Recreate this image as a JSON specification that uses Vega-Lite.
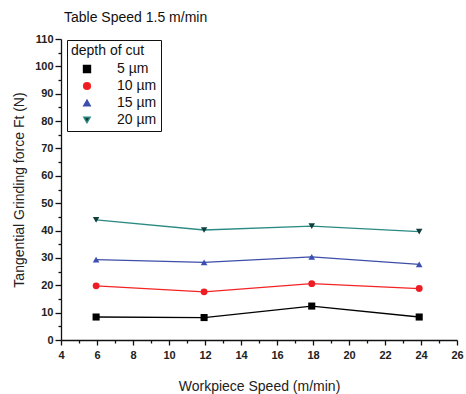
{
  "$schema": "https://vega.github.io/schema/vega-lite/v6.json",
  "width": 396,
  "height": 301,
  "autosize": "none",
  "padding": {"left": 61, "top": 39, "right": 9, "bottom": 54},
  "background": "white",
  "title": {"text": "Table Speed 1.5 m/min", "anchor": "start", "frame": "group", "baseline": "alphabetic", "offset": -3, "dx": 3, "font": "Liberation Sans", "fontSize": 14, "fontWeight": "normal", "color": "#111"},
  "config": {"view": {"stroke": null}, "font": "Liberation Sans"},
  "data": {"values": [
    {"ws": 5.95, "ft": 8.4, "depth": "5 µm"},
    {"ws": 11.95, "ft": 8.2, "depth": "5 µm"},
    {"ws": 17.93, "ft": 12.4, "depth": "5 µm"},
    {"ws": 23.9, "ft": 8.4, "depth": "5 µm"},
    {"ws": 5.95, "ft": 19.8, "depth": "10 µm"},
    {"ws": 11.95, "ft": 17.6, "depth": "10 µm"},
    {"ws": 17.93, "ft": 20.6, "depth": "10 µm"},
    {"ws": 23.9, "ft": 18.8, "depth": "10 µm"},
    {"ws": 5.95, "ft": 29.4, "depth": "15 µm"},
    {"ws": 11.95, "ft": 28.4, "depth": "15 µm"},
    {"ws": 17.93, "ft": 30.4, "depth": "15 µm"},
    {"ws": 23.9, "ft": 27.6, "depth": "15 µm"},
    {"ws": 5.95, "ft": 43.9, "depth": "20 µm"},
    {"ws": 11.95, "ft": 40.2, "depth": "20 µm"},
    {"ws": 17.93, "ft": 41.6, "depth": "20 µm"},
    {"ws": 23.9, "ft": 39.6, "depth": "20 µm"}
  ]},
  "encoding": {
    "x": {"field": "ws", "type": "quantitative", "scale": {"domain": [4, 26], "nice": false, "zero": false},
      "axis": {"title": "Workpiece Speed (m/min)", "values": [4,5,6,7,8,9,10,11,12,13,14,15,16,17,18,19,20,21,22,23,24,25,26],
        "labelExpr": "datum.value % 2 === 0 ? datum.label : ''",
        "tickSize": {"condition": {"test": "datum.value % 2 === 0", "value": 5}, "value": 3},
        "grid": false, "domainColor": "#111", "tickColor": "#111", "domainWidth": 1.3, "tickWidth": 1.3,
        "labelFont": "Liberation Sans", "labelFontSize": 11, "labelFontWeight": "bold", "labelColor": "#222", "labelPadding": 4,
        "labelFlush": false, "labelOverlap": false,
        "titleFont": "Liberation Sans", "titleFontSize": 14, "titleFontWeight": "normal", "titleColor": "#222", "titlePadding": 19}},
    "y": {"field": "ft", "type": "quantitative", "scale": {"domain": [0, 110], "nice": false},
      "axis": {"title": "Tangential Grinding force Ft (N)", "values": [0,5,10,15,20,25,30,35,40,45,50,55,60,65,70,75,80,85,90,95,100,105,110],
        "labelExpr": "datum.value % 10 === 0 ? datum.label : ''",
        "tickSize": {"condition": {"test": "datum.value % 10 === 0", "value": 6}, "value": 3},
        "grid": false, "domainColor": "#111", "tickColor": "#111", "domainWidth": 1.3, "tickWidth": 1.3,
        "labelFont": "Liberation Sans", "labelFontSize": 11, "labelFontWeight": "bold", "labelColor": "#222", "labelPadding": 2,
        "labelFlush": false, "labelOverlap": false,
        "titleFont": "Liberation Sans", "titleFontSize": 14, "titleFontWeight": "normal", "titleColor": "#222", "titlePadding": 8}}
  },
  "layer": [
    {
      "mark": {"type": "line", "strokeWidth": 1.3},
      "encoding": {
        "color": {"field": "depth", "type": "nominal",
          "scale": {"domain": ["5 µm", "10 µm", "15 µm", "20 µm"], "range": ["#000000", "#f42424", "#3e4ea9", "#2b8a83"]},
          "legend": {"title": "depth of cut", "orient": "none", "legendX": 6, "legendY": 1,
            "strokeColor": "#111", "padding": 4,
            "titleFont": "Liberation Sans", "titleFontSize": 14, "titleFontWeight": "normal", "titleColor": "#111", "titlePadding": 4,
            "labelFont": "Liberation Sans", "labelFontSize": 14, "labelColor": "#111", "labelOffset": 23,
            "symbolOffset": 9, "symbolStrokeWidth": 1.3, "rowPadding": 3}}
      }
    },
    {
      "mark": {"type": "point", "filled": true, "opacity": 1, "strokeWidth": 0},
      "encoding": {
        "fill": {"field": "depth", "type": "nominal",
          "scale": {"domain": ["5 µm", "10 µm", "15 µm", "20 µm"], "range": ["#000000", "#ee1c25", "#3a4fb0", "#0f3f3c"]}, "legend": null},
        "shape": {"field": "depth", "type": "nominal",
          "scale": {"domain": ["5 µm", "10 µm", "15 µm", "20 µm"], "range": ["square", "circle", "triangle-up", "triangle-down"]}, "legend": null},
        "size": {"field": "depth", "type": "nominal",
          "scale": {"domain": ["5 µm", "10 µm", "15 µm", "20 µm"], "range": [50, 42, 80, 80]}, "legend": null}
      }
    }
  ]
}
